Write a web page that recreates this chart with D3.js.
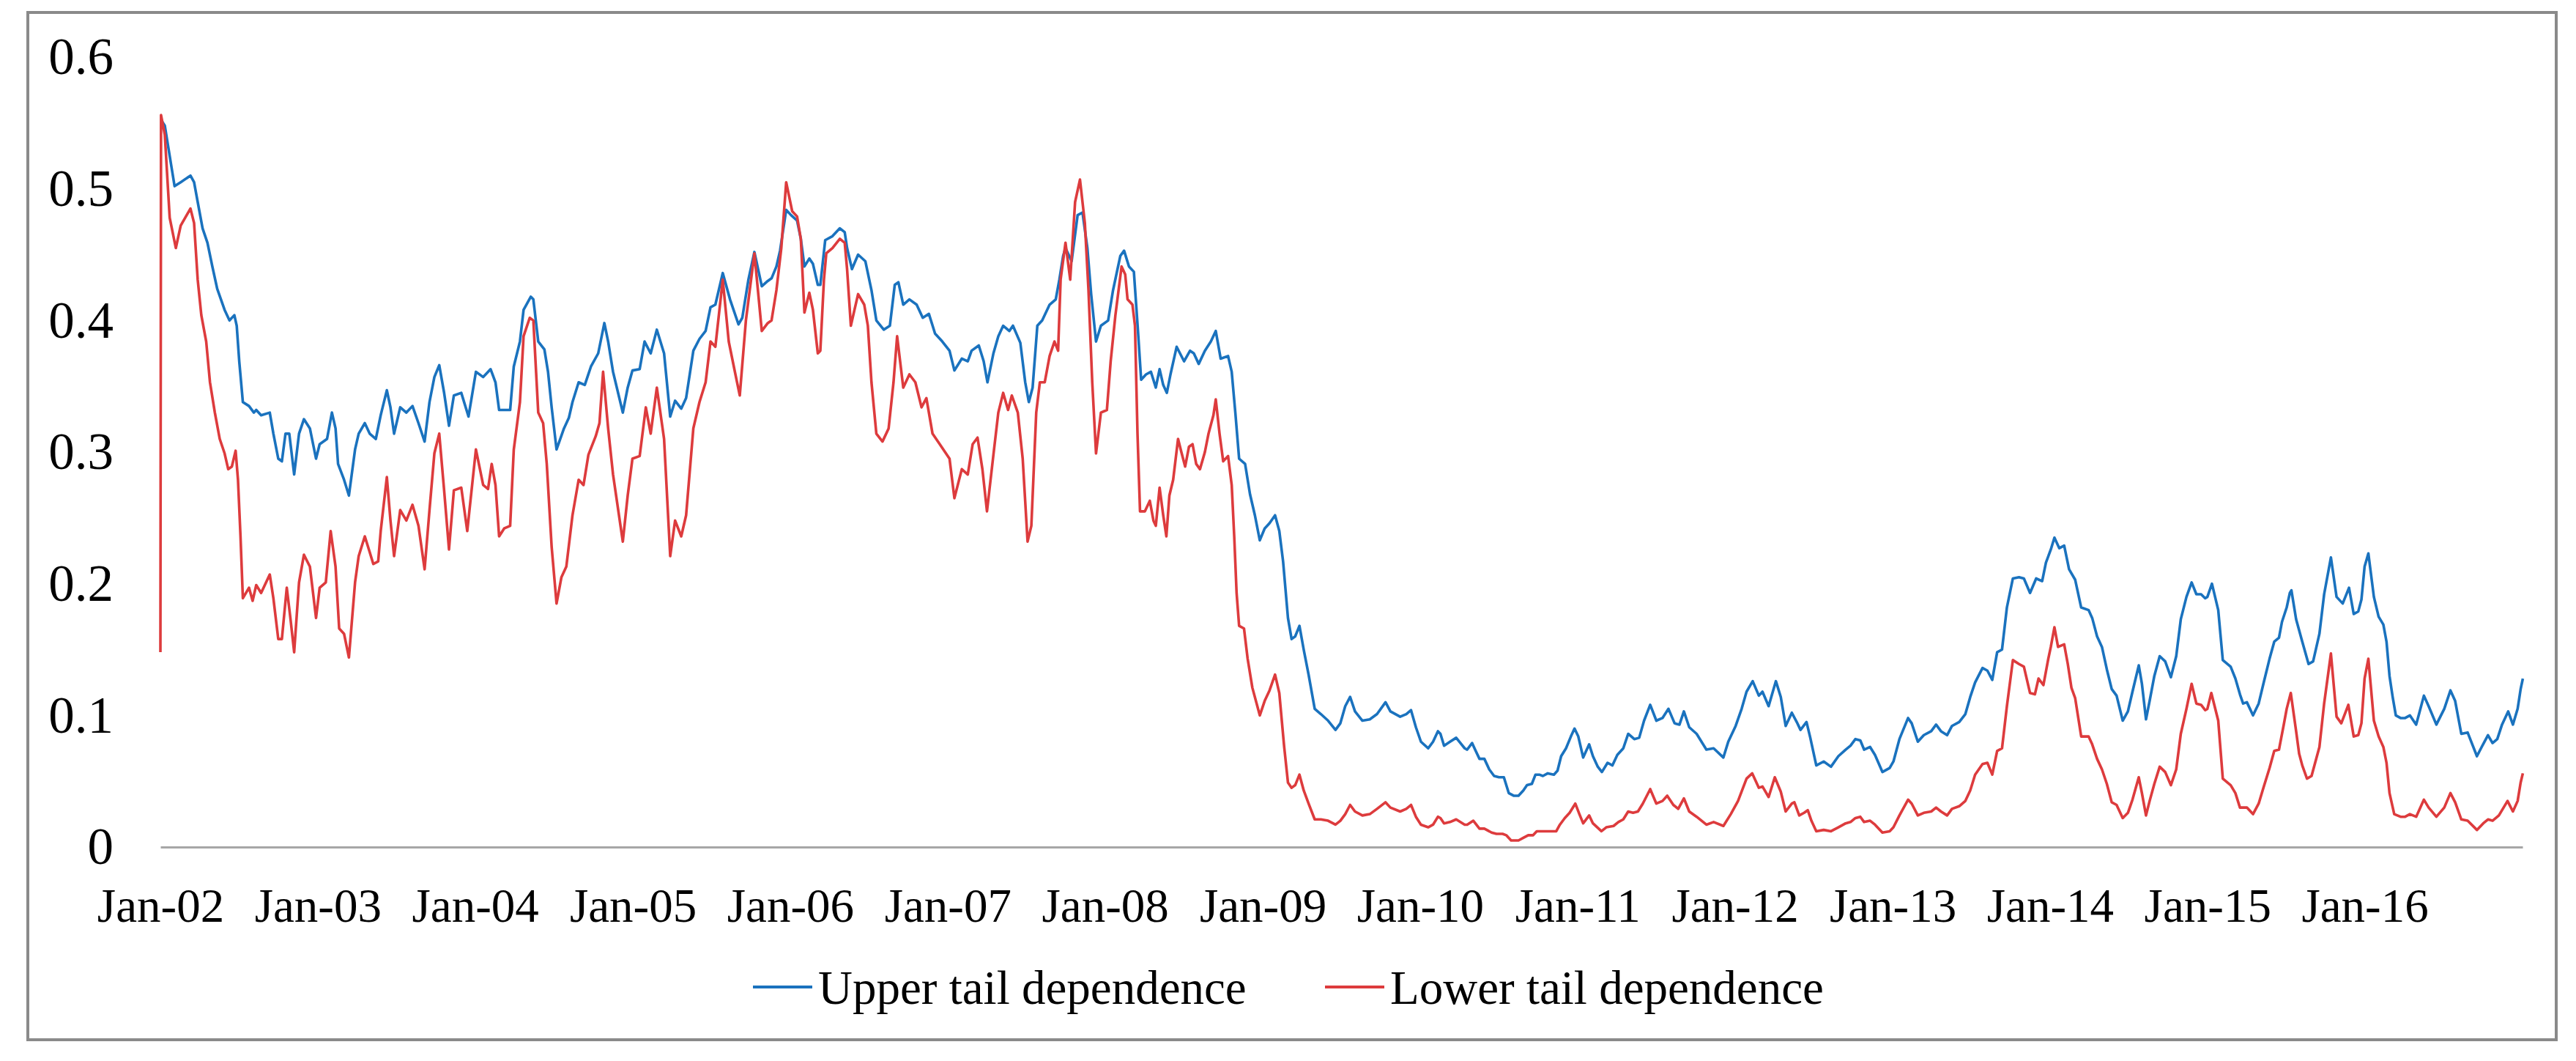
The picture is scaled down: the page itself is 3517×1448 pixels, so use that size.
<!DOCTYPE html>
<html>
<head>
<meta charset="utf-8">
<script src="https://cdn.jsdelivr.net/npm/d3@7"></script>
<style>
html, body { margin: 0; padding: 0; background: #fff; }
svg { display: block; }
</style>
</head>
<body>
<div id="chart"></div>
<script>
// years shown on the category axis
var yearLabels = d3.range(2002, 2017);
var yTicks = [0, 0.1, 0.2, 0.3, 0.4, 0.5, 0.6];
var seriesNames = ["Upper tail dependence", "Lower tail dependence"];
var seriesColors = ["#1a72be", "#dd3b3d"];

// [decimal year, value]
var upperTail = [
[2002.006,.552],[2002.028,.548],[2002.090,.502],[2002.129,.505],[2002.191,.510],[2002.214,.505],[2002.237,.490],[2002.268,.470],
[2002.299,.459],[2002.330,.441],[2002.361,.424],[2002.408,.408],[2002.439,.400],[2002.470,.404],[2002.485,.396],[2002.501,.369],
[2002.524,.338],[2002.563,.335],[2002.594,.330],[2002.609,.332],[2002.640,.328],[2002.695,.330],[2002.718,.314],[2002.749,.295],
[2002.772,.293],[2002.795,.314],[2002.819,.314],[2002.850,.283],[2002.881,.314],[2002.912,.325],[2002.950,.318],[2002.989,.295],
[2003.012,.306],[2003.059,.310],[2003.090,.330],[2003.113,.318],[2003.129,.291],[2003.167,.279],[2003.198,.267],[2003.237,.302],
[2003.260,.314],[2003.299,.322],[2003.330,.314],[2003.369,.310],[2003.400,.328],[2003.439,.347],[2003.462,.334],[2003.485,.314],
[2003.524,.334],[2003.563,.330],[2003.602,.335],[2003.640,.322],[2003.679,.308],[2003.710,.338],[2003.741,.357],[2003.772,.366],
[2003.803,.345],[2003.834,.320],[2003.865,.343],[2003.912,.345],[2003.958,.327],[2004.005,.361],[2004.051,.357],[2004.098,.363],
[2004.129,.353],[2004.152,.332],[2004.191,.332],[2004.222,.332],[2004.245,.365],[2004.284,.384],[2004.307,.408],[2004.353,.418],
[2004.369,.416],[2004.400,.384],[2004.439,.378],[2004.462,.361],[2004.485,.334],[2004.516,.302],[2004.563,.318],[2004.594,.326],
[2004.617,.338],[2004.656,.353],[2004.695,.351],[2004.734,.365],[2004.780,.375],[2004.819,.398],[2004.843,.384],[2004.874,.361],
[2004.936,.330],[2004.967,.349],[2004.997,.362],[2005.043,.363],[2005.074,.384],[2005.113,.375],[2005.152,.393],[2005.198,.375],
[2005.237,.327],[2005.268,.339],[2005.307,.333],[2005.338,.341],[2005.384,.377],[2005.423,.386],[2005.462,.392],[2005.493,.410],
[2005.524,.412],[2005.571,.436],[2005.617,.416],[2005.671,.397],[2005.695,.402],[2005.734,.431],[2005.772,.452],[2005.819,.426],
[2005.857,.430],[2005.881,.432],[2005.912,.441],[2005.935,.453],[2005.974,.484],[2006.005,.480],[2006.043,.476],[2006.067,.462],
[2006.090,.441],[2006.121,.447],[2006.144,.443],[2006.175,.427],[2006.191,.427],[2006.222,.461],[2006.268,.464],[2006.315,.470],
[2006.346,.467],[2006.361,.455],[2006.392,.439],[2006.431,.450],[2006.477,.445],[2006.516,.423],[2006.547,.400],[2006.594,.393],
[2006.633,.396],[2006.664,.427],[2006.687,.429],[2006.718,.412],[2006.757,.416],[2006.803,.412],[2006.842,.402],[2006.881,.405],
[2006.920,.390],[2006.966,.384],[2007.012,.377],[2007.043,.362],[2007.090,.371],[2007.128,.369],[2007.152,.377],[2007.198,.381],
[2007.229,.369],[2007.253,.353],[2007.291,.375],[2007.322,.388],[2007.353,.396],[2007.392,.392],[2007.415,.396],[2007.462,.383],
[2007.493,.353],[2007.516,.338],[2007.540,.349],[2007.570,.396],[2007.601,.400],[2007.648,.412],[2007.687,.416],[2007.710,.431],
[2007.734,.449],[2007.749,.455],[2007.788,.445],[2007.826,.480],[2007.857,.482],[2007.888,.455],[2007.912,.420],[2007.943,.384],
[2007.974,.396],[2008.020,.400],[2008.051,.423],[2008.097,.449],[2008.121,.453],[2008.152,.441],[2008.183,.437],[2008.209,.392],
[2008.229,.355],[2008.260,.359],[2008.291,.361],[2008.322,.349],[2008.346,.363],[2008.369,.351],[2008.392,.345],[2008.415,.359],
[2008.454,.380],[2008.501,.369],[2008.539,.377],[2008.563,.375],[2008.594,.367],[2008.633,.377],[2008.671,.384],[2008.702,.392],
[2008.733,.371],[2008.780,.373],[2008.803,.361],[2008.826,.330],[2008.850,.295],[2008.888,.291],[2008.919,.268],[2008.950,.252],
[2008.981,.233],[2009.012,.242],[2009.043,.246],[2009.078,.252],[2009.105,.240],[2009.129,.217],[2009.160,.174],[2009.183,.158],
[2009.206,.160],[2009.233,.168],[2009.260,.150],[2009.291,.131],[2009.330,.105],[2009.369,.101],[2009.415,.096],[2009.462,.089],
[2009.493,.094],[2009.524,.107],[2009.555,.114],[2009.586,.103],[2009.633,.096],[2009.680,.097],[2009.726,.101],[2009.780,.110],
[2009.811,.103],[2009.873,.099],[2009.912,.101],[2009.942,.104],[2009.973,.091],[2010.005,.080],[2010.051,.075],[2010.082,.080],
[2010.113,.088],[2010.129,.086],[2010.152,.077],[2010.190,.080],[2010.229,.083],[2010.283,.075],[2010.299,.074],[2010.330,.079],
[2010.353,.073],[2010.377,.067],[2010.408,.067],[2010.439,.059],[2010.470,.054],[2010.501,.053],[2010.532,.053],[2010.563,.041],
[2010.594,.039],[2010.625,.039],[2010.656,.043],[2010.679,.047],[2010.710,.048],[2010.733,.055],[2010.757,.055],[2010.780,.054],
[2010.811,.056],[2010.850,.055],[2010.873,.058],[2010.896,.069],[2010.927,.075],[2010.958,.084],[2010.981,.090],[2011.005,.084],
[2011.036,.068],[2011.074,.078],[2011.098,.069],[2011.129,.061],[2011.155,.057],[2011.191,.064],[2011.222,.062],[2011.253,.070],
[2011.291,.075],[2011.322,.086],[2011.361,.082],[2011.392,.083],[2011.423,.096],[2011.462,.108],[2011.501,.096],[2011.540,.098],
[2011.578,.105],[2011.617,.094],[2011.648,.093],[2011.676,.103],[2011.710,.091],[2011.757,.086],[2011.819,.074],[2011.865,.075],
[2011.927,.068],[2011.958,.080],[2012.005,.092],[2012.043,.105],[2012.074,.118],[2012.113,.126],[2012.152,.115],[2012.175,.118],
[2012.214,.107],[2012.260,.126],[2012.291,.114],[2012.322,.092],[2012.361,.102],[2012.392,.095],[2012.416,.089],[2012.454,.095],
[2012.478,.083],[2012.516,.062],[2012.563,.065],[2012.609,.061],[2012.656,.069],[2012.702,.074],[2012.733,.077],[2012.764,.082],
[2012.795,.081],[2012.819,.074],[2012.857,.076],[2012.888,.070],[2012.935,.057],[2012.981,.060],[2013.005,.065],[2013.043,.082],
[2013.098,.098],[2013.121,.094],[2013.160,.080],[2013.198,.085],[2013.245,.088],[2013.276,.093],[2013.307,.088],[2013.346,.085],
[2013.377,.092],[2013.423,.095],[2013.462,.101],[2013.493,.114],[2013.524,.125],[2013.571,.136],[2013.602,.134],[2013.633,.127],
[2013.664,.148],[2013.695,.150],[2013.726,.182],[2013.764,.204],[2013.803,.205],[2013.834,.204],[2013.873,.193],[2013.912,.204],
[2013.950,.202],[2013.974,.216],[2014.005,.226],[2014.028,.235],[2014.059,.227],[2014.090,.229],[2014.121,.211],[2014.160,.203],
[2014.198,.182],[2014.245,.180],[2014.268,.174],[2014.299,.160],[2014.330,.152],[2014.361,.135],[2014.392,.120],[2014.423,.115],
[2014.462,.096],[2014.495,.103],[2014.524,.118],[2014.564,.138],[2014.584,.124],[2014.610,.097],[2014.633,.111],[2014.663,.130],
[2014.697,.145],[2014.732,.141],[2014.768,.129],[2014.802,.145],[2014.831,.173],[2014.867,.190],[2014.900,.201],[2014.930,.192],
[2014.960,.192],[2014.986,.189],[2015.000,.190],[2015.029,.200],[2015.069,.180],[2015.098,.142],[2015.148,.137],[2015.178,.128],
[2015.207,.116],[2015.227,.109],[2015.251,.110],[2015.290,.100],[2015.326,.109],[2015.356,.124],[2015.395,.143],[2015.425,.156],
[2015.455,.159],[2015.474,.171],[2015.504,.182],[2015.524,.193],[2015.534,.195],[2015.564,.173],[2015.603,.156],[2015.643,.139],
[2015.672,.141],[2015.712,.162],[2015.742,.192],[2015.785,.220],[2015.821,.190],[2015.860,.185],[2015.900,.197],[2015.930,.177],
[2015.959,.179],[2015.979,.188],[2015.999,.213],[2016.023,.223],[2016.058,.190],[2016.088,.175],[2016.118,.169],[2016.138,.156],
[2016.157,.130],[2016.177,.114],[2016.197,.100],[2016.227,.098],[2016.256,.098],[2016.286,.100],[2016.326,.093],[2016.375,.115],
[2016.405,.107],[2016.454,.093],[2016.504,.105],[2016.543,.119],[2016.573,.111],[2016.612,.086],[2016.652,.087],[2016.711,.069],
[2016.741,.076],[2016.781,.085],[2016.810,.079],[2016.840,.082],[2016.870,.093],[2016.909,.103],[2016.939,.093],[2016.969,.105],
[2016.988,.120],[2017.002,.128]
];

var lowerTail = [
[2002.000,.148],[2002.004,.556],[2002.028,.541],[2002.059,.478],[2002.098,.455],[2002.129,.472],[2002.191,.485],[2002.214,.474],
[2002.237,.431],[2002.260,.404],[2002.291,.384],[2002.315,.353],[2002.346,.330],[2002.377,.310],[2002.408,.299],[2002.431,.287],
[2002.454,.289],[2002.478,.301],[2002.493,.279],[2002.509,.236],[2002.524,.189],[2002.563,.197],[2002.586,.187],[2002.609,.199],
[2002.640,.193],[2002.695,.207],[2002.718,.189],[2002.749,.158],[2002.772,.158],[2002.803,.197],[2002.826,.174],[2002.850,.148],
[2002.881,.201],[2002.912,.222],[2002.950,.213],[2002.989,.174],[2003.012,.197],[2003.051,.201],[2003.082,.240],[2003.113,.213],
[2003.136,.166],[2003.167,.162],[2003.198,.144],[2003.237,.201],[2003.260,.221],[2003.299,.236],[2003.330,.224],[2003.353,.215],
[2003.384,.217],[2003.400,.240],[2003.439,.281],[2003.462,.248],[2003.485,.221],[2003.524,.256],[2003.563,.248],[2003.602,.260],
[2003.640,.244],[2003.679,.211],[2003.710,.256],[2003.741,.299],[2003.772,.314],[2003.803,.271],[2003.834,.226],[2003.865,.271],
[2003.912,.273],[2003.950,.240],[2004.005,.302],[2004.051,.275],[2004.082,.272],[2004.105,.291],[2004.129,.275],[2004.152,.236],
[2004.184,.242],[2004.222,.244],[2004.245,.302],[2004.284,.338],[2004.307,.388],[2004.346,.402],[2004.369,.400],[2004.400,.330],
[2004.431,.322],[2004.454,.291],[2004.485,.228],[2004.516,.185],[2004.547,.205],[2004.578,.213],[2004.617,.252],[2004.656,.279],
[2004.687,.275],[2004.718,.298],[2004.764,.312],[2004.788,.322],[2004.811,.361],[2004.843,.318],[2004.874,.283],[2004.936,.232],
[2004.967,.267],[2004.997,.295],[2005.043,.297],[2005.082,.334],[2005.113,.314],[2005.152,.349],[2005.198,.310],[2005.237,.221],
[2005.268,.248],[2005.307,.236],[2005.338,.252],[2005.384,.318],[2005.423,.338],[2005.462,.353],[2005.493,.384],[2005.524,.380],
[2005.571,.431],[2005.609,.384],[2005.648,.361],[2005.679,.343],[2005.718,.400],[2005.772,.451],[2005.819,.392],[2005.857,.398],
[2005.881,.400],[2005.912,.423],[2005.943,.455],[2005.974,.505],[2006.012,.483],[2006.043,.479],[2006.067,.462],[2006.090,.406],
[2006.121,.421],[2006.144,.408],[2006.175,.375],[2006.191,.377],[2006.214,.431],[2006.229,.451],[2006.268,.455],[2006.315,.462],
[2006.346,.459],[2006.361,.439],[2006.385,.396],[2006.408,.408],[2006.431,.420],[2006.470,.412],[2006.493,.396],[2006.516,.353],
[2006.547,.314],[2006.586,.308],[2006.625,.318],[2006.656,.353],[2006.679,.388],[2006.718,.349],[2006.757,.359],[2006.795,.353],
[2006.834,.334],[2006.865,.341],[2006.904,.314],[2006.950,.306],[2007.012,.295],[2007.043,.265],[2007.090,.287],[2007.128,.283],
[2007.159,.306],[2007.190,.311],[2007.221,.287],[2007.250,.255],[2007.291,.298],[2007.322,.330],[2007.353,.345],[2007.384,.332],
[2007.408,.343],[2007.446,.330],[2007.477,.295],[2007.508,.232],[2007.532,.244],[2007.563,.330],[2007.586,.353],[2007.617,.353],
[2007.648,.373],[2007.679,.384],[2007.702,.377],[2007.718,.431],[2007.749,.459],[2007.779,.431],[2007.810,.490],[2007.841,.507],
[2007.872,.474],[2007.895,.423],[2007.919,.353],[2007.943,.299],[2007.974,.330],[2008.012,.332],[2008.036,.369],[2008.066,.404],
[2008.105,.441],[2008.128,.435],[2008.143,.416],[2008.174,.412],[2008.190,.396],[2008.206,.314],[2008.222,.255],[2008.253,.255],
[2008.284,.263],[2008.307,.248],[2008.322,.244],[2008.346,.273],[2008.369,.252],[2008.389,.236],[2008.408,.267],[2008.432,.279],
[2008.463,.310],[2008.484,.300],[2008.508,.289],[2008.532,.304],[2008.555,.306],[2008.578,.291],[2008.602,.287],[2008.633,.300],
[2008.656,.314],[2008.687,.328],[2008.702,.340],[2008.726,.314],[2008.749,.293],[2008.780,.297],[2008.803,.275],[2008.819,.236],
[2008.834,.193],[2008.850,.168],[2008.881,.166],[2008.904,.143],[2008.934,.121],[2008.981,.100],[2009.012,.111],[2009.043,.119],
[2009.078,.131],[2009.105,.117],[2009.136,.076],[2009.160,.049],[2009.183,.045],[2009.206,.047],[2009.233,.055],[2009.260,.043],
[2009.291,.033],[2009.330,.021],[2009.369,.021],[2009.415,.020],[2009.462,.017],[2009.493,.020],[2009.524,.025],[2009.555,.032],
[2009.586,.027],[2009.633,.024],[2009.680,.025],[2009.726,.029],[2009.780,.034],[2009.811,.030],[2009.873,.027],[2009.912,.029],
[2009.942,.032],[2009.973,.023],[2010.005,.017],[2010.051,.015],[2010.082,.017],[2010.113,.023],[2010.129,.022],[2010.152,.018],
[2010.190,.019],[2010.229,.021],[2010.283,.017],[2010.299,.017],[2010.338,.020],[2010.377,.014],[2010.408,.014],[2010.454,.011],
[2010.485,.010],[2010.524,.010],[2010.547,.009],[2010.578,.005],[2010.625,.005],[2010.656,.007],[2010.687,.009],[2010.718,.009],
[2010.741,.012],[2010.780,.012],[2010.826,.012],[2010.865,.012],[2010.888,.017],[2010.919,.022],[2010.950,.026],[2010.986,.033],
[2011.012,.025],[2011.036,.018],[2011.074,.024],[2011.098,.018],[2011.152,.012],[2011.183,.015],[2011.229,.016],[2011.260,.019],
[2011.291,.021],[2011.322,.027],[2011.353,.026],[2011.384,.027],[2011.415,.033],[2011.462,.044],[2011.501,.033],[2011.540,.035],
[2011.570,.039],[2011.609,.032],[2011.640,.029],[2011.676,.037],[2011.710,.027],[2011.757,.023],[2011.819,.017],[2011.865,.019],
[2011.927,.016],[2011.974,.025],[2012.020,.035],[2012.074,.052],[2012.110,.056],[2012.152,.045],[2012.175,.046],[2012.214,.038],
[2012.253,.053],[2012.291,.042],[2012.322,.027],[2012.361,.033],[2012.377,.034],[2012.408,.024],[2012.439,.026],[2012.462,.028],
[2012.485,.020],[2012.516,.012],[2012.563,.013],[2012.609,.012],[2012.656,.015],[2012.702,.018],[2012.733,.019],[2012.764,.022],
[2012.795,.023],[2012.819,.019],[2012.857,.020],[2012.888,.017],[2012.935,.011],[2012.981,.012],[2013.005,.015],[2013.043,.024],
[2013.098,.036],[2013.121,.033],[2013.160,.024],[2013.198,.026],[2013.245,.027],[2013.276,.030],[2013.307,.027],[2013.346,.024],
[2013.377,.029],[2013.423,.031],[2013.462,.035],[2013.493,.043],[2013.524,.055],[2013.571,.063],[2013.602,.064],[2013.633,.055],
[2013.664,.073],[2013.695,.075],[2013.726,.107],[2013.764,.142],[2013.803,.139],[2013.834,.137],[2013.873,.117],[2013.904,.116],
[2013.927,.128],[2013.958,.123],[2013.989,.143],[2014.005,.152],[2014.028,.167],[2014.051,.152],[2014.090,.154],[2014.113,.139],
[2014.136,.121],[2014.160,.113],[2014.198,.084],[2014.245,.084],[2014.268,.078],[2014.299,.067],[2014.330,.059],[2014.361,.048],
[2014.392,.034],[2014.423,.032],[2014.462,.022],[2014.495,.026],[2014.524,.036],[2014.564,.053],[2014.584,.041],[2014.610,.024],
[2014.633,.035],[2014.663,.048],[2014.697,.061],[2014.732,.057],[2014.768,.047],[2014.802,.059],[2014.831,.086],[2014.867,.105],
[2014.900,.124],[2014.930,.109],[2014.960,.108],[2014.986,.104],[2015.000,.105],[2015.025,.117],[2015.069,.096],[2015.098,.052],
[2015.148,.047],[2015.178,.041],[2015.207,.030],[2015.251,.030],[2015.290,.025],[2015.326,.033],[2015.356,.045],[2015.395,.060],
[2015.425,.073],[2015.455,.074],[2015.484,.092],[2015.504,.105],[2015.530,.117],[2015.564,.088],[2015.583,.071],[2015.603,.062],
[2015.633,.052],[2015.662,.054],[2015.712,.076],[2015.742,.109],[2015.785,.147],[2015.821,.099],[2015.851,.094],[2015.896,.108],
[2015.930,.084],[2015.959,.085],[2015.979,.094],[2015.999,.128],[2016.023,.143],[2016.058,.096],[2016.088,.084],[2016.118,.076],
[2016.138,.064],[2016.157,.041],[2016.187,.025],[2016.227,.023],[2016.256,.023],[2016.286,.025],[2016.326,.023],[2016.375,.036],
[2016.405,.030],[2016.454,.023],[2016.504,.030],[2016.543,.041],[2016.573,.034],[2016.612,.021],[2016.652,.020],[2016.711,.013],
[2016.751,.018],[2016.781,.021],[2016.810,.020],[2016.850,.024],[2016.880,.030],[2016.905,.035],[2016.939,.027],[2016.969,.035],
[2016.988,.049],[2017.002,.056]
];

// decimal year -> UTC date
function toDate(yr) {
    var y0 = Math.floor(yr);
    var a = Date.UTC(y0, 0, 1), b = Date.UTC(y0 + 1, 0, 1);
    return new Date(a + (yr - y0) * (b - a));
}

var width = 3517, height = 1448;
var margin = { top: 78, right: 73, bottom: 292, left: 219 };
var font = "'Liberation Serif', 'Times New Roman', serif";

var svg = d3.select('#chart').append('svg')
    .attr('width', width)
    .attr('height', height);

svg.append('rect')
    .attr('width', width).attr('height', height)
    .attr('fill', '#fff');

// outer frame
svg.append('rect')
    .attr('x', 38).attr('y', 17)
    .attr('width', 3452).attr('height', 1402)
    .attr('fill', 'none')
    .attr('stroke', '#8a8a8a')
    .attr('stroke-width', 4);

var x = d3.scaleUtc()
    .domain([new Date(Date.UTC(2002, 0, 1)), new Date(Date.UTC(2017, 0, 1))])
    .range([margin.left, width - margin.right]);

var y = d3.scaleLinear()
    .domain([0, 0.6])
    .range([height - margin.bottom, margin.top]);

// x axis
var xAxis = d3.axisBottom(x)
    .tickValues(yearLabels.map(function (yr) { return new Date(Date.UTC(yr, 0, 1)); }))
    .tickFormat(d3.utcFormat('%b-%y'))
    .tickSize(0);

var gx = svg.append('g')
    .attr('transform', 'translate(0,' + y(0) + ')')
    .call(xAxis);
gx.select('.domain')
    .attr('stroke', '#a6a6a6')
    .attr('stroke-width', 3);
gx.selectAll('text')
    .attr('y', 102)
    .attr('dy', 0)
    .attr('fill', '#000')
    .style('font-family', font)
    .style('font-size', '65px');

// y axis (labels only)
var yAxis = d3.axisLeft(y)
    .tickValues(yTicks)
    .tickFormat(function (d) { return d === 0 ? '0' : d3.format('.1f')(d); })
    .tickSize(0)
    .tickPadding(64);

var gy = svg.append('g')
    .attr('transform', 'translate(' + margin.left + ',0)')
    .call(yAxis);
gy.select('.domain').remove();
gy.selectAll('text')
    .attr('fill', '#000')
    .style('font-family', font)
    .style('font-size', '71px');

// lines
var line = d3.line()
    .x(function (d) { return x(toDate(d[0])); })
    .y(function (d) { return y(d[1]); });

var series = [upperTail, lowerTail];
series.forEach(function (s, i) {
    svg.append('path')
        .datum(s)
        .attr('fill', 'none')
        .attr('stroke', seriesColors[i])
        .attr('stroke-width', 3.6)
        .attr('stroke-linejoin', 'round')
        .attr('d', line);
});

// legend
var legendX = [1028, 1809];
var legend = svg.append('g');
seriesNames.forEach(function (name, i) {
    legend.append('line')
        .attr('x1', legendX[i]).attr('x2', legendX[i] + 81)
        .attr('y1', 1347).attr('y2', 1347)
        .attr('stroke', seriesColors[i])
        .attr('stroke-width', 4);
    legend.append('text')
        .attr('x', legendX[i] + 89)
        .attr('y', 1370)
        .attr('fill', '#000')
        .style('font-family', font)
        .style('font-size', '65px')
        .text(name);
});
</script>
</body>
</html>
